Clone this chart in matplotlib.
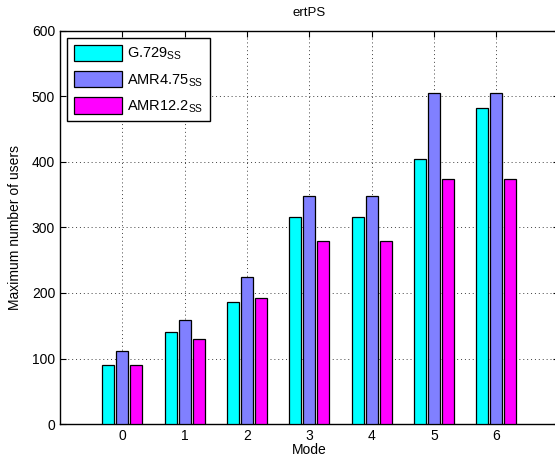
import matplotlib
matplotlib.use("Agg")
import matplotlib.pyplot as plt
import numpy as np

plt.rcParams['font.family'] = ['Liberation Sans', 'DejaVu Sans']
plt.rcParams['mathtext.default'] = 'regular'

modes = [0, 1, 2, 3, 4, 5, 6]
series_names = ['G.729$_{SS}$', 'AMR4.75$_{SS}$', 'AMR12.2$_{SS}$']
g729 = [90, 140, 187, 316, 316, 405, 482]
amr475 = [111, 159, 224, 348, 348, 506, 506]
amr122 = [90, 130, 193, 280, 280, 374, 374]
colors = ['#00ffff', '#8080ff', '#ff00ff']

fig = plt.figure(figsize=(5.55, 4.66), dpi=100)
ax = fig.add_axes([60/555, 42/466, 498.6/555, 393/466])

x = np.array(modes, dtype=float)
offs = [-0.225, 0.0, 0.225]
for vals, off, c, name in zip([g729, amr475, amr122], offs, colors, series_names):
    ax.bar(x + off, vals, width=0.19, color=c, edgecolor='black', linewidth=0.9,
           label=name, zorder=3)

ax.set_xlim(-1, 7)
ax.set_ylim(0, 600)
ax.set_xticks(modes)
ax.set_yticks([0, 100, 200, 300, 400, 500, 600])
ax.grid(True, linestyle=(0, (1, 3)), color='#404040', linewidth=0.7, zorder=0)
ax.tick_params(direction='in', top=True, right=True, labelsize=10, length=4)
for s in ax.spines.values():
    s.set_linewidth(1.0)
ax.set_title('ertPS', fontsize=9.5, pad=11)
ax.set_xlabel('Mode', fontsize=10, labelpad=0)
ax.set_ylabel('Maximum number of users', fontsize=10, labelpad=7)

leg = ax.legend(loc='upper left', fontsize=10.5, handlelength=3.3, handleheight=1.35,
                fancybox=False, edgecolor='black', framealpha=1,
                borderaxespad=0.5, labelspacing=0.6, handletextpad=0.35,
                borderpad=0.45)
leg.get_frame().set_linewidth(1.0)

fig.savefig('out.png', dpi=100)
